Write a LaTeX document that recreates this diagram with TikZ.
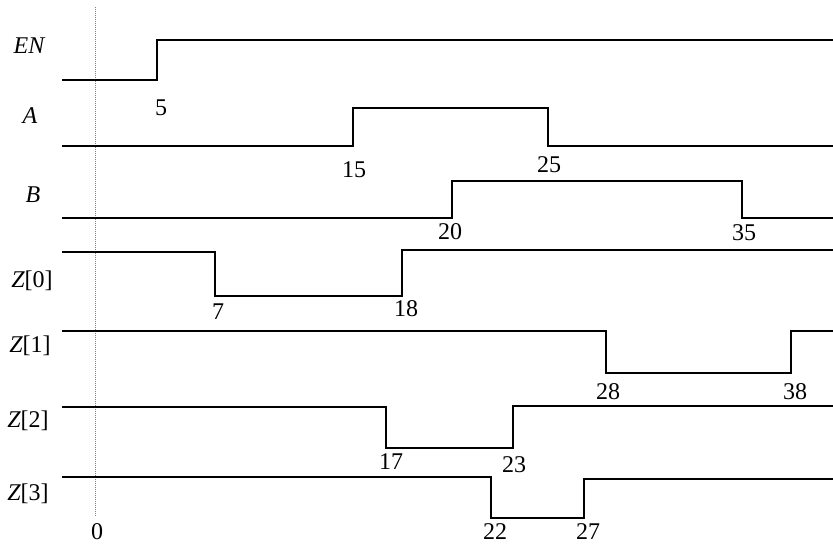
\documentclass[tikz,border=0pt]{standalone}
\usepackage{fontspec}
\setmainfont{Liberation Serif}
\begin{document}
\begin{tikzpicture}[x=1pt,y=-1pt,
  wave/.style={line width=1.7pt,line join=miter},
  lbl/.style={font=\fontsize{24}{26}\selectfont,inner sep=0pt},
  num/.style={font=\fontsize{24}{26}\selectfont,inner sep=0pt}]
\useasboundingbox (0,0) rectangle (833,546);
% time zero reference
\coordinate (ztop) at (95,7);
\coordinate (zbot) at (95,517);
\draw[gray,line width=0.6pt,dash pattern=on 1pt off 1pt] (ztop) -- (zbot);
% signal names
\node[lbl] (nEN) at (29,46) {\itshape EN};
\node[lbl] (nA) at (30,116) {\itshape A};
\node[lbl] (nB) at (33,195) {\itshape B};
\node[lbl] (nZ0) at (32,281) {\itshape Z\upshape[0]};
\node[lbl] (nZ1) at (30,346) {\itshape Z\upshape[1]};
\node[lbl] (nZ2) at (28,421) {\itshape Z\upshape[2]};
\node[lbl] (nZ3) at (28,494) {\itshape Z\upshape[3]};
% waveforms
\draw[wave] (62,80) -- (157,80) -- (157,40) -- (833,40);
\draw[wave] (62,146) -- (353,146) -- (353,108) -- (548,108) -- (548,146) -- (833,146);
\draw[wave] (62,218) -- (452,218) -- (452,181) -- (742,181) -- (742,218) -- (833,218);
\draw[wave] (62,252) -- (215,252) -- (215,296) -- (402,296) -- (402,250) -- (833,250);
\draw[wave] (62,331) -- (606,331) -- (606,373) -- (791,373) -- (791,331) -- (833,331);
\draw[wave] (62,407) -- (386,407) -- (386,448) -- (513,448) -- (513,406) -- (833,406);
\draw[wave] (62,477) -- (491,477) -- (491,518) -- (584,518) -- (584,479) -- (833,479);
% time labels
\node[num] (t0) at (97,532) {0};
\node[num] (t5) at (161,108) {5};
\node[num] (t15) at (354,170) {15};
\node[num] (t25) at (549,165) {25};
\node[num] (t20) at (450,232) {20};
\node[num] (t35) at (744,233) {35};
\node[num] (t7) at (218,312) {7};
\node[num] (t18) at (406,309) {18};
\node[num] (t28) at (608,392) {28};
\node[num] (t38) at (795,392) {38};
\node[num] (t17) at (391,462) {17};
\node[num] (t23) at (514,465) {23};
\node[num] (t22) at (495,532) {22};
\node[num] (t27) at (588,532) {27};
\end{tikzpicture}
\end{document}
